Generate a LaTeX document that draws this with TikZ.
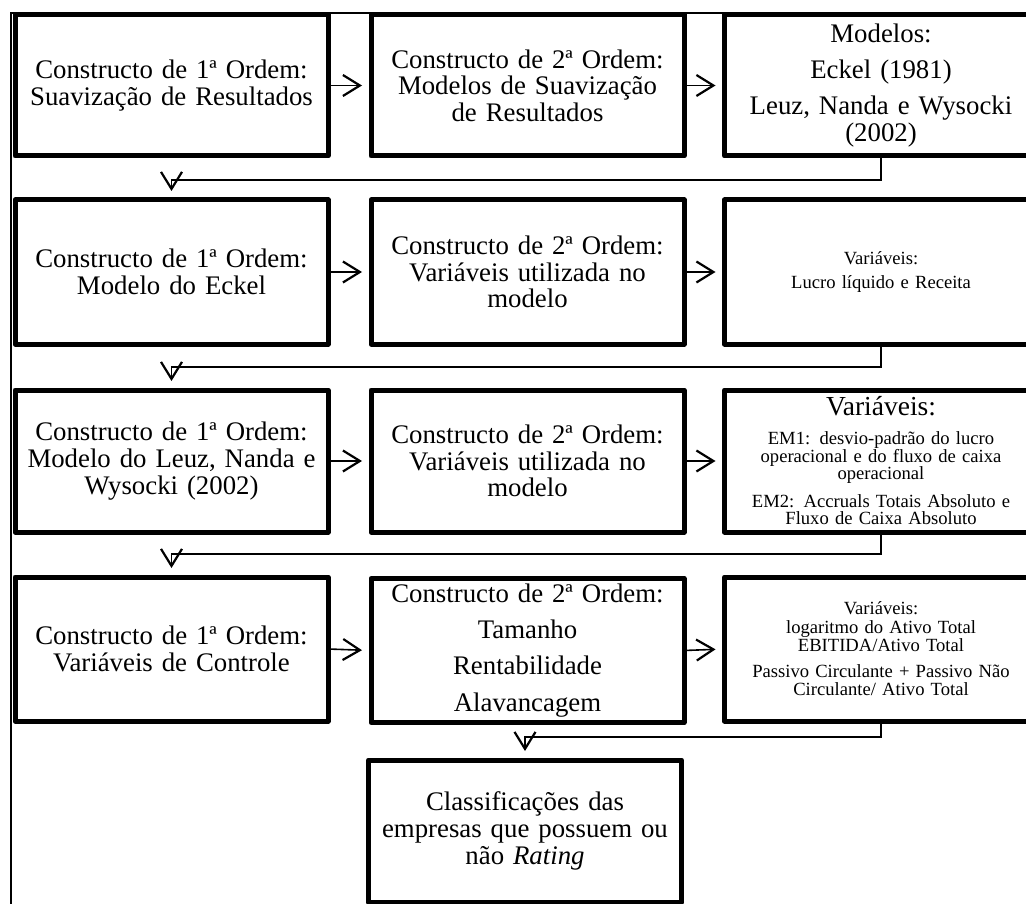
\documentclass[tikz,border=0pt]{standalone}
\usepackage{fontspec}
\setmainfont{Liberation Serif}
\usetikzlibrary{arrows.meta}
\lineskiplimit=-100pt
\newcommand\bigtxt{\fontsize{26.8}{26.6}\selectfont}
\newcommand\headtxt{\fontsize{27.5}{26.6}\selectfont}
\newcommand\smtxt{\fontsize{18.6}{17}\selectfont}
\newcommand\smtxtb{\fontsize{18.6}{18}\selectfont}
\begin{document}
\begin{tikzpicture}[x=1pt,y=-1pt,
  box/.style={draw, line width=5pt, line join=round, minimum width=313pt,
    inner sep=0pt, outer sep=0pt, text width=308pt, align=center, font=\bigtxt},
  conn/.style={line width=1.6pt, -{Straight Barb[length=17pt,width=21pt,line width=2.2pt]},
    shorten >=9pt},
  framel/.style={line width=1.2pt}]
\clip (0,0) rectangle (1026,904);
\draw[framel] (1030,13) -- (11,13) -- (11,910);
% row 1
\node[box, minimum height=141pt] (r1c1) at (171.5,85.5) {Constructo de 1ª Ordem:\\ Suavização de Resultados};
\node[box, minimum height=141pt] (r1c2) at (527.5,85.5) {Constructo de 2ª Ordem:\\ Modelos de Suavização\\ de Resultados};
\node[box, minimum height=141pt] (r1c3) at (881,85.5) {Modelos:\\[9pt] Eckel (1981)\\[10pt] Leuz, Nanda e Wysocki\\ (2002)};
% row 2
\node[box, minimum height=144pt] (r2c1) at (171.5,272) {Constructo de 1ª Ordem:\\ Modelo do Eckel};
\node[box, minimum height=144pt] (r2c2) at (527.5,272) {Constructo de 2ª Ordem:\\ Variáveis utilizada no\\ modelo};
\node[box, minimum height=144pt, font=\smtxt] (r2c3) at (881,272) {Variáveis:\\[7pt] Lucro líquido e Receita};
% row 3
\node[box, minimum height=142pt] (r3c1) at (171.5,461) {Constructo de 1ª Ordem:\\ Modelo do Leuz, Nanda e\\ Wysocki (2002)};
\node[box, minimum height=142pt] (r3c2) at (527.5,461) {Constructo de 2ª Ordem:\\ Variáveis utilizada no\\ modelo};
\node[box, minimum height=142pt, font=\smtxt] (r3c3) at (881,461) {{\headtxt Variáveis:\hspace*{26pt}}\\[12pt] EM1: desvio-padrão do lucro\\ operacional e do fluxo de caixa\\ operacional\\[11pt] EM2: Accruals Totais Absoluto e\\ Fluxo de Caixa Absoluto};
% row 4
\node[box, minimum height=144pt] (r4c1) at (171.5,649) {Constructo de 1ª Ordem:\\ Variáveis de Controle};
\node[box, minimum height=144pt] (r4c2) at (527.5,650.5) {Constructo de 2ª Ordem:\\[9.5pt] Tamanho\\[9.5pt] Rentabilidade\\[9.5pt] Alavancagem};
\node[box, minimum height=144pt, font=\smtxtb] (r4c3) at (881,649) {Variáveis:\\[1pt] logaritmo do Ativo Total\\ EBITIDA/Ativo Total\\[8pt] Passivo Circulante + Passivo Não\\ Circulante/ Ativo Total};
% bottom
\node[box, minimum height=142pt] (bot) at (525,831) {Classificações das\\ empresas que possuem ou\\ não \textit{Rating}};
% horizontal arrows
\draw[conn] (r1c1.east) -- (r1c2.west);
\draw[conn] (r1c2.east) -- (r1c3.west);
\draw[conn] (r2c1.east) -- (r2c2.west);
\draw[conn] (r2c2.east) -- (r2c3.west);
\draw[conn] (r3c1.east) -- (r3c2.west);
\draw[conn] (r3c2.east) -- (r3c3.west);
\draw[conn] (r4c1.east) -- (r4c2.west);
\draw[conn] (r4c2.east) -- (r4c3.west);
% row-to-row connectors
\draw[conn] (r1c3.south) -- ++(0,24) -| (r2c1.north);
\draw[conn] (r2c3.south) -- ++(0,23) -| (r3c1.north);
\draw[conn] (r3c3.south) -- ++(0,22) -| (r4c1.north);
\draw[conn] (r4c3.south) -- ++(0,16) -| (bot.north);
\end{tikzpicture}
\end{document}
